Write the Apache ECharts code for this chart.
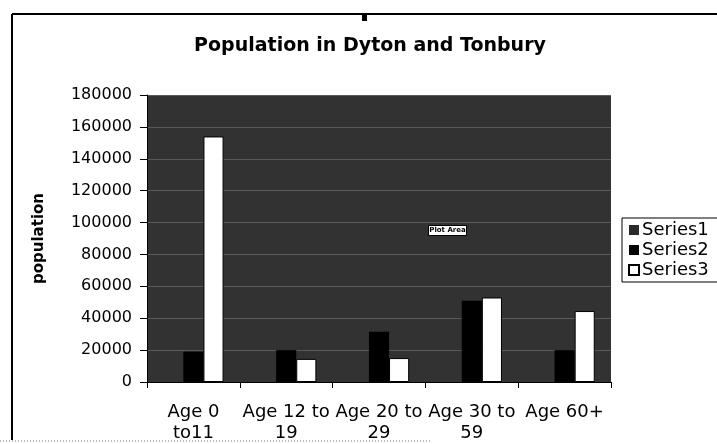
<!DOCTYPE html>
<html>
<head>
<meta charset="utf-8">
<script src="https://cdn.jsdelivr.net/npm/echarts@6/dist/echarts.min.js"></script>
<style>
  html, body { margin: 0; padding: 0; background: #fff; }
  #main { width: 717px; height: 444px; }
</style>
</head>
<body>
<div id="main"></div>
<script>
// chart container
var chart = echarts.init(document.getElementById('main'));

// categories (x axis)
var ageGroups = ['Age 0\nto11', 'Age 12 to\n19', 'Age 20 to\n29', 'Age 30 to\n59', 'Age 60+'];
// series values (Series1 blends into the plot area, estimated)
var series1 = [18000, 15000, 25000, 45000, 22000];
var series2 = [19000, 20000, 31500, 51000, 20000];
var series3 = [154000, 14500, 15000, 53000, 44500];
// y axis ticks
var yMax = 180000;
var yStep = 20000;

var font = 'DejaVu Sans';
var plotBg = '#323232';

var option = {
    backgroundColor: '#fff',
    animation: false,
    title: {
        text: 'Population in Dyton and Tonbury',
        left: 365,
        textAlign: 'center',
        top: 32,
        textStyle: { color: '#000', fontSize: 19, fontWeight: 'bold', fontFamily: font }
    },
    legend: {
        orient: 'vertical',
        left: 622,
        top: 218,
        itemWidth: 10,
        itemHeight: 10,
        itemGap: 2,
        icon: 'rect',
        padding: [3, 40, 3, 6],
        borderColor: '#000',
        borderWidth: 1,
        textStyle: { color: '#000', fontSize: 18, fontFamily: font, padding: [0, 0, 0, -2] },
        data: [
            { name: 'Series1', itemStyle: { color: '#2a2a2a', opacity: 1 } },
            'Series2',
            'Series3'
        ]
    },
    grid: {
        left: 147,
        right: 106,
        top: 95,
        bottom: 55,
        show: true,
        backgroundColor: plotBg,
        borderWidth: 0
    },
    xAxis: {
        type: 'category',
        data: ageGroups,
        axisLine: { lineStyle: { color: '#000', width: 1 } },
        axisTick: { show: true, length: 6, lineStyle: { color: '#000' } },
        axisLabel: {
            interval: 0,
            margin: 20,
            color: '#000',
            fontSize: 18,
            lineHeight: 21,
            fontFamily: font
        }
    },
    yAxis: {
        type: 'value',
        min: 0,
        max: yMax,
        interval: yStep,
        name: 'population',
        nameLocation: 'middle',
        nameGap: 100,
        nameTextStyle: { color: '#000', fontSize: 15, fontWeight: 'bold', fontFamily: font },
        axisLine: { show: true, lineStyle: { color: '#000' } },
        axisTick: { show: true, length: 7, lineStyle: { color: '#000' } },
        axisLabel: {
            margin: 15, color: '#000', fontSize: 16, fontFamily: font,
            formatter: function (v) { return String(v); }
        },
        splitLine: { show: true, lineStyle: { color: '#5a5a5a', width: 1 } }
    },
    series: [
        {
            // same tone as the plot area in the scan, so it does not show
            name: 'Series1',
            type: 'bar',
            data: series1,
            barGap: '0%',
            barCategoryGap: '35%',
            itemStyle: { color: plotBg, opacity: 0 }
        },
        {
            name: 'Series2',
            type: 'bar',
            data: series2,
            barGap: '0%',
            barCategoryGap: '35%',
            itemStyle: { color: '#000' }
        },
        {
            name: 'Series3',
            type: 'bar',
            data: series3,
            barGap: '0%',
            barCategoryGap: '35%',
            itemStyle: { color: '#fff', borderColor: '#000', borderWidth: 1 }
        }
    ],
    graphic: [
        // page frame from the scan
        { type: 'line', shape: { x1: 12, y1: 14, x2: 717, y2: 14 }, style: { stroke: '#000', lineWidth: 2 } },
        { type: 'line', shape: { x1: 12, y1: 14, x2: 12, y2: 440 }, style: { stroke: '#000', lineWidth: 2 } },
        { type: 'rect', shape: { x: 362, y: 14, width: 5, height: 7 }, style: { fill: '#000' } },
        { type: 'line', shape: { x1: 0, y1: 441, x2: 430, y2: 441 }, style: { stroke: '#777', lineWidth: 1, lineDash: [1, 2] } },
        // excel hover tip
        {
            type: 'group', left: 428, top: 225, children: [
                { type: 'rect', shape: { x: 0, y: 0, width: 38, height: 10 }, style: { fill: '#fff', stroke: '#000', lineWidth: 1 } },
                { type: 'text', style: { x: 19, y: 5, text: 'Plot Area', fill: '#000', fontSize: 7, fontWeight: 'bold', fontFamily: font, align: 'center', verticalAlign: 'middle' } }
            ]
        }
    ]
};

chart.setOption(option);
</script>
</body>
</html>
